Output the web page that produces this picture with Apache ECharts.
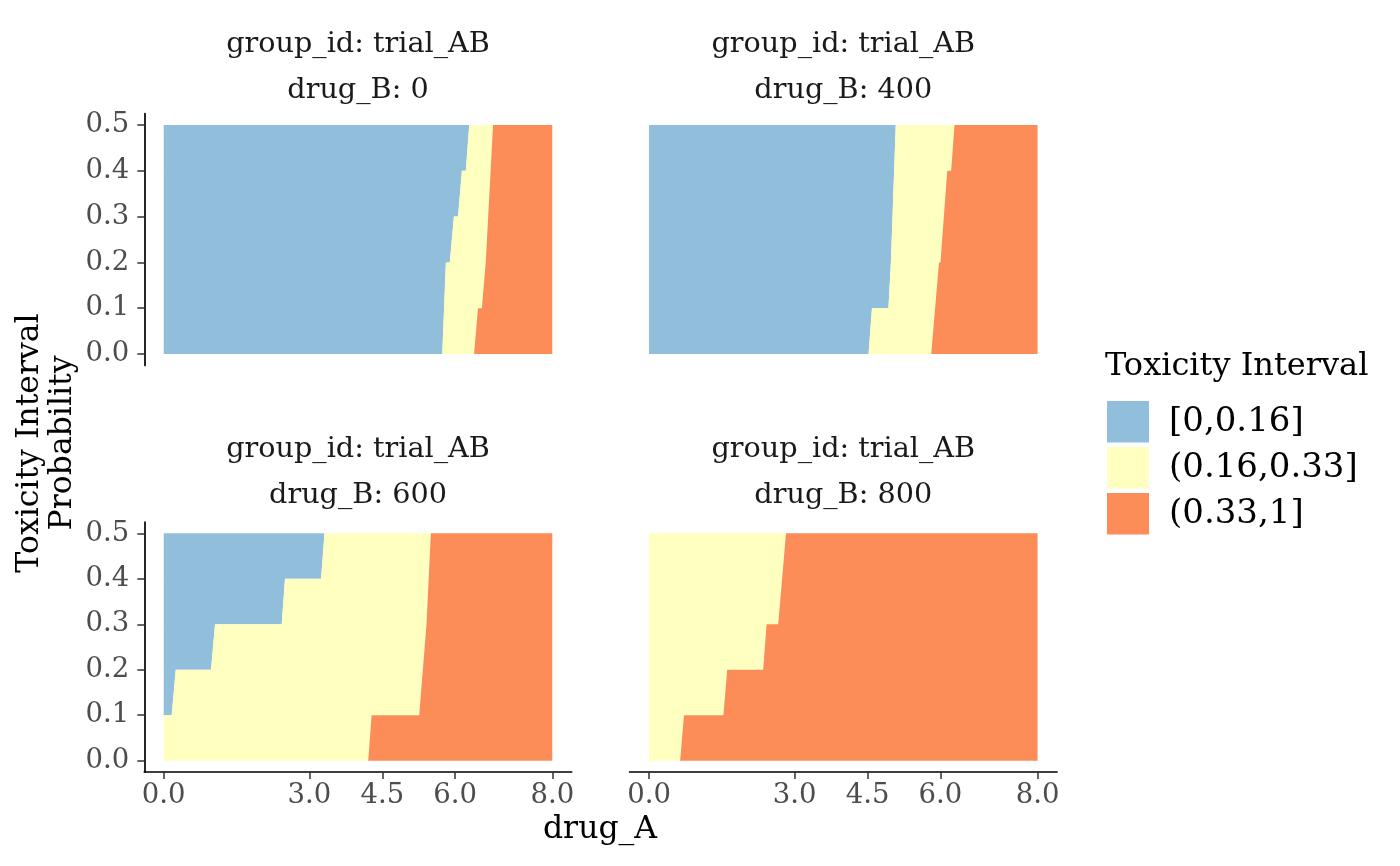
<!DOCTYPE html>
<html>
<head>
<meta charset="utf-8">
<title>Toxicity Interval Probability</title>
<script src="https://cdn.jsdelivr.net/npm/echarts@6/dist/echarts.min.js"></script>
<style>
  html, body { margin: 0; padding: 0; background: #fff; }
  #chart { width: 1400px; height: 866px; }
</style>
</head>
<body>
<div id="chart"></div>
<script>
// facet levels and legend categories
const groupId = 'trial_AB';
const drugBLevels = [0, 400, 600, 800];
const intervalLabels = ['[0,0.16]', '(0.16,0.33]', '(0.33,1]'];
const intervalColors = ['#91BFDB', '#FFFFBF', '#FC8D59'];

// axis ticks
const xTicks = [0, 3, 4.5, 6, 8];
const yTicks = [0, 0.1, 0.2, 0.3, 0.4, 0.5];
const xMax = 8;
const yMax = 0.5;

// interval boundaries, as [probability, drug_A]
// lower edge: [0,0.16] | (0.16,0.33]   upper edge: (0.16,0.33] | (0.33,1]
const lowEdgeB0 = [[0, 5.735], [0.2, 5.81], [0.2, 5.89], [0.3, 5.975], [0.3, 6.06], [0.4, 6.14], [0.4, 6.22], [0.5, 6.29]];
const highEdgeB0 = [[0, 6.39], [0.1, 6.47], [0.1, 6.55], [0.2, 6.63], [0.5, 6.78]];

const lowEdgeB400 = [[0, 4.52], [0.1, 4.59], [0.1, 4.93], [0.2, 4.98], [0.5, 5.08]];
const highEdgeB400 = [[0, 5.81], [0.2, 5.97], [0.2, 6.0], [0.4, 6.14], [0.4, 6.22], [0.5, 6.29]];

const lowEdgeB600 = [[0, 0], [0.1, 0], [0.1, 0.164], [0.2, 0.247], [0.2, 0.974], [0.3, 1.056], [0.3, 2.43], [0.4, 2.497], [0.4, 3.24], [0.5, 3.31]];
const highEdgeB600 = [[0, 4.21], [0.1, 4.28], [0.1, 5.26], [0.3, 5.41], [0.5, 5.50]];

const lowEdgeB800 = [[0, 0], [0.5, 0]];
const highEdgeB800 = [[0, 0.64], [0.1, 0.72], [0.1, 1.53], [0.2, 1.61], [0.2, 2.35], [0.3, 2.42], [0.3, 2.66], [0.5, 2.82]];

const lowEdges = [lowEdgeB0, lowEdgeB400, lowEdgeB600, lowEdgeB800];
const highEdges = [highEdgeB0, highEdgeB400, highEdgeB600, highEdgeB800];

const FONT = 'DejaVu Serif';

// panel boxes (pixel)
const grids = [
  { left: 144.3, top: 113.5, width: 427.4, height: 252 },
  { left: 629.6, top: 113.5, width: 427.4, height: 252 },
  { left: 144.3, top: 522, width: 427.4, height: 250 },
  { left: 629.6, top: 522, width: 427.4, height: 250 }
];

/**
 * 把边界转换成区域多边形 [drug_A, prob]
 */
function regionPolygon(panel, region) {
  const low = lowEdges[panel].map(p => [p[1], p[0]]);
  const high = highEdges[panel].map(p => [p[1], p[0]]);
  if (region === 0) {
    return [[0, 0], [0, yMax]].concat(low.slice().reverse());
  }
  if (region === 1) {
    return low.concat(high.slice().reverse());
  }
  return high.concat([[xMax, yMax], [xMax, 0]]);
}

const xAxes = [];
const yAxes = [];
const series = [];

grids.forEach((g, i) => {
  const showX = i >= 2;
  const showY = i % 2 === 0;
  xAxes.push({
    gridIndex: i,
    type: 'value',
    min: -0.4,
    max: 8.4,
    show: showX,
    axisLine: { show: true, onZero: false, lineStyle: { color: '#000', width: 1.7 } },
    axisTick: { show: true, customValues: xTicks, length: 7, lineStyle: { color: '#333', width: 1.5 } },
    axisLabel: {
      customValues: xTicks,
      formatter: v => v.toFixed(1),
      color: '#4D4D4D',
      fontFamily: FONT,
      fontSize: 27.5,
      margin: 10
    },
    splitLine: { show: false }
  });
  yAxes.push({
    gridIndex: i,
    type: 'value',
    min: -0.025,
    max: 0.525,
    show: showY,
    axisLine: { show: true, onZero: false, lineStyle: { color: '#000', width: 1.7 } },
    axisTick: { show: true, customValues: yTicks, length: 7, lineStyle: { color: '#333', width: 1.5 } },
    axisLabel: {
      customValues: yTicks,
      formatter: v => v.toFixed(1),
      color: '#4D4D4D',
      fontFamily: FONT,
      fontSize: 27.5,
      margin: 15
    },
    splitLine: { show: false }
  });
  intervalLabels.forEach((name, r) => {
    series.push({
      type: 'custom',
      name: name,
      xAxisIndex: i,
      yAxisIndex: i,
      itemStyle: { color: intervalColors[r] },
      data: [[0, 0]],
      silent: true,
      renderItem: (params, api) => ({
        type: 'polygon',
        shape: { points: regionPolygon(i, r).map(p => api.coord(p)) },
        style: { fill: intervalColors[r] }
      })
    });
  });
});

// strip labels and axis titles
const graphics = [];
grids.forEach((g, i) => {
  const cx = g.left + g.width / 2;
  const y0 = i < 2 ? 45 : 450;
  graphics.push({
    type: 'text', x: cx, y: y0,
    style: { text: 'group_id: ' + groupId, font: '28.7px "' + FONT + '"', fill: '#1A1A1A', textAlign: 'center', textVerticalAlign: 'middle' }
  });
  graphics.push({
    type: 'text', x: cx, y: y0 + 46,
    style: { text: 'drug_B: ' + drugBLevels[i], font: '28.7px "' + FONT + '"', fill: '#1A1A1A', textAlign: 'center', textVerticalAlign: 'middle' }
  });
});
graphics.push({
  type: 'text', x: 600, y: 830,
  style: { text: 'drug_A', font: '31.5px "' + FONT + '"', fill: '#000', textAlign: 'center', textVerticalAlign: 'middle' }
});
graphics.push({
  type: 'text', x: 46.5, y: 443, rotation: Math.PI / 2,
  style: { text: 'Toxicity Interval\nProbability', font: '31.5px "' + FONT + '"', lineHeight: 33, fill: '#000', textAlign: 'center', textVerticalAlign: 'middle' }
});
graphics.push({
  type: 'text', x: 1105, y: 367,
  style: { text: 'Toxicity Interval', font: '32px "' + FONT + '"', fill: '#000', textAlign: 'left', textVerticalAlign: 'middle' }
});

const chart = echarts.init(document.getElementById('chart'));
chart.setOption({
  animation: false,
  backgroundColor: '#fff',
  color: intervalColors,
  grid: grids,
  xAxis: xAxes,
  yAxis: yAxes,
  legend: {
    data: intervalLabels,
    orient: 'vertical',
    left: 1107,
    top: 401,
    padding: 0,
    icon: 'rect',
    itemWidth: 42,
    itemHeight: 41.5,
    itemGap: 4.5,
    selectedMode: false,
    textStyle: { fontFamily: FONT, fontSize: 34, color: '#000', padding: [0, 0, 0, 15] }
  },
  graphic: graphics,
  series: series
});
</script>
</body>
</html>
